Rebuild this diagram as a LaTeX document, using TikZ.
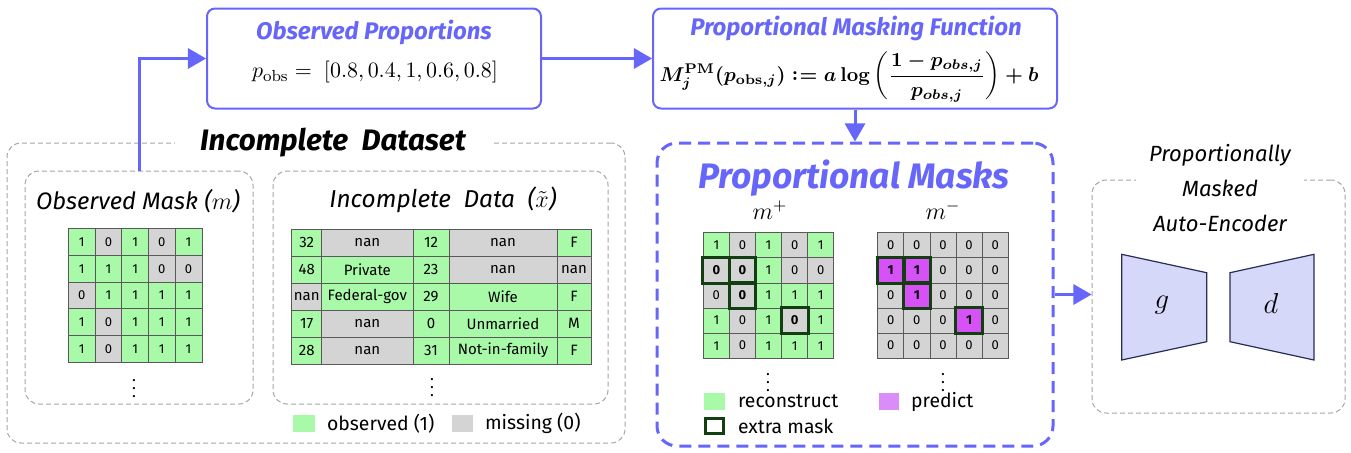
\documentclass[tikz,border=0pt]{standalone}
\usepackage[no-math]{fontspec}
\setmainfont{Fira Sans}
\usepackage{amsmath}
\usepackage{tikz}
\usetikzlibrary{arrows}
\definecolor{pmblue}{RGB}{102,102,250}
\definecolor{obsgreen}{RGB}{168,250,168}
\definecolor{missgray}{RGB}{212,212,212}
\definecolor{predpink}{RGB}{214,82,246}
\definecolor{predlite}{RGB}{218,140,248}
\definecolor{xgreen}{RGB}{18,62,18}
\definecolor{aefill}{RGB}{214,216,250}
\definecolor{aedraw}{RGB}{40,45,85}
\definecolor{dgray}{RGB}{165,165,165}
\tikzstyle{fl} = [-triangle 60, draw=pmblue, line width=1.5pt]
\tikzstyle{pbox} = [draw=pmblue, line width=1pt, rounded corners=4pt]
\tikzstyle{dbox} = [draw=dgray, line width=0.5pt, dash pattern=on 2.5pt off 1.5pt, rounded corners=7pt]
\tikzstyle{ptitle} = [text=pmblue, font=\fontsize{12}{14}\selectfont\bfseries\itshape]
\tikzstyle{cell} = [draw=black!65, line width=0.35pt, inner sep=0pt, font=\fontsize{6.5}{7}\selectfont]
\tikzstyle{s0} = [fill=missgray]
\tikzstyle{s1} = [fill=obsgreen]
\tikzstyle{k0} = [s0, node contents=0]
\tikzstyle{k1} = [s1, node contents=1]
\tikzstyle{k2} = [s0, node contents=\textbf{0}]
\tikzstyle{k3} = [fill=predpink, node contents=\textbf{1}]
\tikzstyle{xm} = [draw=xgreen, line width=1.5pt]
\tikzstyle{lg} = [anchor=west, font=\fontsize{9.7}{11}\selectfont]
\tikzstyle{ae} = [draw=aedraw, fill=aefill, line width=0.6pt]
\newcommand{\pmdef}{\mathrel{\vcenter{\hbox{$:$}}\mkern-4mu=}}

\begin{document}
\begin{tikzpicture}[x=0.5pt,y=-0.5pt]
	\useasboundingbox (0,0) rectangle (1351,452);
	\node[pbox, minimum width=167pt, minimum height=50pt] (obs) at (374,58.5) {};
	\node[ptitle] (obst) at (374,32) {Observed Proportions};
	\node[font=\fontsize{10.8}{13}\selectfont] (obsf) at (375,72) {$p_{\mathrm{obs}} =\; [0.8, 0.4, 1, 0.6, 0.8]$};
	\node[pbox, minimum width=202pt, minimum height=50pt] (pmf) at (855,58.5) {};
	\node[ptitle] (pmft) at (856,28) {Proportional Masking Function};
	\node[font=\fontsize{10}{12}\selectfont] (pmff) at (849,77) {{\boldmath$M_j^{\mathrm{PM}}(p_{\mathrm{obs},j}) \pmdef a\log\left(\dfrac{1-p_{obs,j}}{p_{obs,j}}\right)+b$}};

	\node[dbox, minimum width=309pt, minimum height=150pt] (ids) at (316,293) {};
	\node[fill=white, inner xsep=12.5pt, inner ysep=1pt, font=\fontsize{14.8}{17}\selectfont\bfseries\itshape] (idst) at (333,143) {Incomplete~~Dataset};
	\node[dbox, minimum width=114pt, minimum height=116.5pt] (omask) at (139,287.5) {};
	\node[font=\fontsize{11.9}{14}\selectfont\itshape] (omaskt) at (138,201) {Observed Mask ($m$)};
	\foreach \row [count=\r] in {{1,0,1,0,1},{1,1,1,0,0},{0,1,1,1,1},{1,0,1,1,1},{1,0,1,1,1}}
		\foreach \v [count=\c] in \row
			\node (m\r\c) at ({55+26.7*\c},{215.35+26.7*\r}) [cell, k\v, minimum width=13.35pt, minimum height=13.35pt];
	\node[font=\fontsize{8}{9}\selectfont] (mdots) at (134,383) {$\vdots$};

	\node[dbox, minimum width=167.5pt, minimum height=116.5pt] (idata) at (440.5,287.5) {};
	\node[font=\fontsize{12.2}{14}\selectfont\itshape] (idatat) at (443,200) {Incomplete~~Data~~($\tilde{x}$)};
	\foreach \x/\w/\col [count=\c] in {306.7/30/{32/1,48/1,nan/0,17/1,28/1},
			367.35/91.3/{nan/0,Private/1,Federal-gov/1,nan/0,nan/0},
			431/36/{12/1,23/1,29/1,0/1,31/1},
			503/108/{nan/0,nan/0,Wife/1,Unmarried/1,Not-in-family/1},
			574/34/{F/1,nan/0,F/1,M/1,F/1}}
		\foreach \t/\s [count=\r] in \col
			\node[cell, s\s, font=\fontsize{7.5}{8}\selectfont, minimum width=\w*0.5pt, minimum height=13.5pt] (d\r\c) at (\x,{215.5+27*\r}) {\t};
	\node[font=\fontsize{8}{9}\selectfont] (ddots) at (432,382) {$\vdots$};
	\node[s1, minimum width=11pt, minimum height=8.5pt, inner sep=0pt] (lgobs) at (304,423.5) {};
	\node[lg] (lgobst) at (320,423.5) {observed (1)};
	\node[s0, minimum width=10.5pt, minimum height=8.5pt, inner sep=0pt] (lgmis) at (462.5,423.5) {};
	\node[lg] (lgmist) at (478,423.5) {missing (0)};

	\node[draw=pmblue, line width=1.5pt, dash pattern=on 6pt off 3.5pt, rounded corners=10pt, minimum width=198pt, minimum height=151.5pt] (pm) at (855,294.5) {};
	\node[text=pmblue, font=\fontsize{17.7}{20}\selectfont\bfseries\itshape] (pmt) at (854,178) {Proportional Masks};
	\node[font=\fontsize{12}{14}\selectfont] (mpt) at (770,210) {$m^{+}$};
	\node[font=\fontsize{12}{14}\selectfont] (mmt) at (943,210) {$m^{-}$};
	\foreach \row [count=\r] in {{1,0,1,0,1},{2,2,1,0,0},{0,2,1,1,1},{1,0,1,2,1},{1,0,1,1,1}}
		\foreach \v [count=\c] in \row
			\node (p\r\c) at ({690.25+26.1*\c},{220.15+25.1*\r}) [cell, k\v, minimum width=13.05pt, minimum height=12.55pt];
	\foreach \row [count=\r] in {{0,0,0,0,0},{3,3,0,0,0},{0,3,0,0,0},{0,0,0,3,0},{0,0,0,0,0}}
		\foreach \v [count=\c] in \row
			\node (n\r\c) at ({864.65+26.1*\c},{220.15+25.1*\r}) [cell, k\v, minimum width=13.05pt, minimum height=12.55pt];
	\foreach \r/\c in {2/1,2/2,3/2,4/4} {
		\draw[xm] (p\r\c.north west) rectangle (p\r\c.south east);
		\draw[xm] (n\r\c.north west) rectangle (n\r\c.south east);
	}
	\node[font=\fontsize{8}{9}\selectfont] (pdots) at (768,377) {$\vdots$};
	\node[font=\fontsize{8}{9}\selectfont] (ndots) at (943,377) {$\vdots$};
	\node[s1, minimum width=10.5pt, minimum height=8.5pt, inner sep=0pt] (lgrec) at (714.5,401.5) {};
	\node[lg] (lgrect) at (731,401.5) {reconstruct};
	\node[draw=xgreen, line width=1.5pt, fill=white, minimum width=9pt, minimum height=7.5pt, inner sep=0pt] (lgxm) at (714.5,426) {};
	\node[lg] (lgxmt) at (731,426) {extra mask};
	\node[fill=predlite, minimum width=10pt, minimum height=8.5pt, inner sep=0pt] (lgpr) at (889,401.5) {};
	\node[lg] (lgprt) at (904,401.5) {predict};

	\node[dbox, minimum width=126.5pt, minimum height=116.5pt] (ae) at (1218.5,296.5) {};
	\node[fill=white, align=center, minimum width=84pt, inner ysep=0pt, font=\fontsize{11}{17.5}\selectfont\itshape] (aet) at (1220,188) {Proportionally\\Masked\\Auto-Encoder};
	\draw[ae] (1121.7,254.3) -- (1206.7,272.7) -- (1206.7,341.7) -- (1121.7,360) -- cycle;
	\draw[ae] (1230,272.7) -- (1314,254.3) -- (1314,360) -- (1230,341.7) -- cycle;
	\node[font=\fontsize{15}{17}\selectfont] (enc) at (1162,305) {$g$};
	\node[font=\fontsize{15}{17}\selectfont] (dec) at (1271,303) {$d$};

	\draw[fl] (omask.north) |- (obs.west);
	\draw[fl] (obs.east) -- (pmf.west);
	\draw[fl] (pmf.south) -- (pm.north);
	\draw[fl] (pm.east) -- (pm.east -| ae.west);
\end{tikzpicture}
\end{document}
